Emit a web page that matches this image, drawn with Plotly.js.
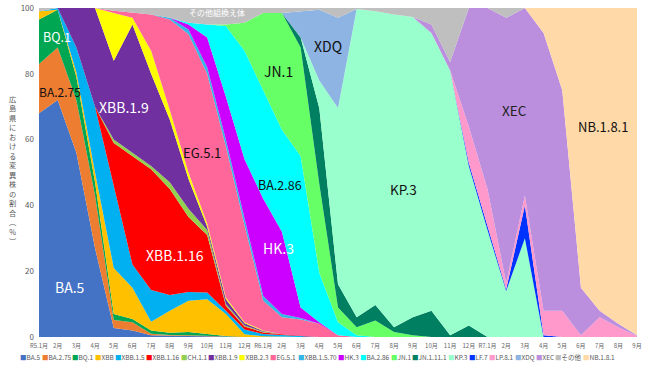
<!DOCTYPE html>
<html><head><meta charset="utf-8">
<script src="https://cdn.plot.ly/plotly-3.0.1.min.js"></script>
<style>html,body{margin:0;padding:0;background:#fff}</style>
</head><body>
<div id="chart" style="width:650px;height:365px"></div>
<script>
// ---- data ----
const months = ['R5.1月','2月','3月','4月','5月','6月','7月','8月','9月','10月','11月','12月',
  'R6.1月','2月','3月','4月','5月','6月','7月','8月','9月','10月','11月','12月',
  'R7.1月','2月','3月','4月','5月','6月','7月','8月','9月'];
const seriesNames = ['BA.5','BA.2.75','BQ.1','XBB','XBB.1.5','XBB.1.16','CH.1.1','XBB.1.9','XBB.2.3','EG.5.1',
  'XBB.1.5.70','HK.3','BA.2.86','JN.1','JN.1.11.1','KP.3','LF.7','LP.8.1','XDQ','XEC','その他','NB.1.8.1'];

const BA5     = [68,72,56,27,2.7,2,0.5,0.3,0.3,0.2,0.1,0,0,0,0,0,0,0,0,0,0,0,0,0,0,0,0,0,0,0,0,0,0];
const BA275   = [15,16,16,16,2.5,2.5,0.5,0.3,0.2,0.1,0,0,0,0,0,0,0,0,0,0,0,0,0,0,0,0,0,0,0,0,0,0,0];
const BQ1     = [13.5,11.5,7,4,1.8,1,1,0.7,1,0.5,0.2,0,0,0,0,0,0,0,0,0,0,0,0,0,0,0,0,0,0,0,0,0,0];
const XBB     = [2.5,0,1.5,3,14,9.5,2.6,6.7,9.5,10.7,6.7,0.8,0.2,0,0,0,0,0,0,0,0,0,0,0,0,0,0,0,0,0,0,0,0];
const XBB15   = [0,0.5,7.5,20,25,7,9.7,4.8,2.7,2,1,1.5,0.7,0.5,0.3,0,0,0,0,0,0,0,0,0,0,0,0,0,0,0,0,0,0];
const XBB116  = [0,0,0,0,13,33,36.7,32.2,22.8,17.5,1.5,0.9,0.5,0.3,0,0,0,0,0,0,0,0,0,0,0,0,0,0,0,0,0,0,0];
const CH11    = [0,0,0,0,1,1,1,2,2.5,1.5,0.5,0.3,0.2,0,0,0,0,0,0,0,0,0,0,0,0,0,0,0,0,0,0,0,0];
const XBB19   = [0,0,12,30,24,39,28,19,9,1,1.5,0.7,0.2,0,0,0,0,0,0,0,0,0,0,0,0,0,0,0,0,0,0,0,0];
const XBB23   = [0,0,0,0,14.5,2,7,3,2,1,0.5,0.3,0.2,0,0,0,0,0,0,0,0,0,0,0,0,0,0,0,0,0,0,0,0];
const EG51    = [0,0,0,0,0.7,1.5,11,27.5,42,45.5,46,29.5,9,5.2,5,4,0.5,0,0,0,0,0,0,0,0,0,0,0,0,0,0,0,0];
const XBB1570 = [0,0,0,0,0,0,0,0.5,1.5,2,2,2,1.5,1,0.5,0,0,0,0,0,0,0,0,0,0,0,0,0,0,0,0,0,0];
const HK3     = [0,0,0,0,0,0,0,0,1.5,9,13,18,29.5,25,3.2,0.5,0,0,0,0,0,0,0,0,0,0,0,0,0,0,0,0,0];
const BA286   = [0,0,0,0,0,0,0,0,0.5,4,21.5,33,33,31,46,15,4,0.5,0,0,0,0,0,0,0,0,0,0,0,0,0,0,0];
const JN1     = [0,0,0,0,0,0,0,0,0,0,0.5,8.5,23.5,35.5,33,27,4.5,2.5,5,1.5,0.5,0,0,0,0,0,0,0,0,0,0,0,0];
const JN1111  = [0,0,0,0,0,0,0,0,0,0,0,0,0,0,3,23,7,3,4.7,1.5,5.5,8,0.5,3.5,0,0,0,0,0,0,0,0,0];
const KP3     = [0,0,0,0,0,0,0,0,0,0,0,0,0,0,0,8.5,53.6,93.7,89.3,95,91.3,84.4,80.5,48.5,32.5,14,30,0,0,0,0,0,0];
const LF7     = [0,0,0,0,0,0,0,0,0,0,0,0,0,0,0,0,0,0,0,0,0,0,0,1,1,0.5,10,0.5,0,0,0,0,0];
const LP81    = [0,0,0,0,0,0,0,0,0,0,0,0,0,0,0,0,0,0,0,0,0,0,0,11,11.5,1.9,3,7.5,8,0.5,6,3,0.3];
const XDQ     = [0,0,0,0,0,0,0,0,0,0,0,0,0,0,8,21.5,27.4,0,0,0,0,0,0,0,0,0,0,0,0,0,0,0,0];
const XEC     = [0,0,0,0,0,0,0,0,0,0,0,0,0,0,0,0,0,0,0,0,0,2.6,2.6,36,55,80.6,57,84.4,67,14.5,2,1,0.2];
const OTHER   = [1,0,0,0,0.8,1.5,2,3,4.5,5,5,4.5,1.5,1.5,1,0.5,3,0.3,1,2,2.7,5,16.4,0,0,3,0,0,0,0,0,0,0];
const NB181   = [0,0,0,0,0,0,0,0,0,0,0,0,0,0,0,0,0,0,0,0,0,0,0,0,0,0,0,7.6,25,85,92,96,99.5];

// ---- styles ----
const seriesValues = [BA5,BA275,BQ1,XBB,XBB15,XBB116,CH11,XBB19,XBB23,EG51,XBB1570,HK3,BA286,JN1,JN1111,KP3,LF7,LP81,XDQ,XEC,OTHER,NB181];
const colors = ['#4472C4','#ED7D31','#00A651','#FFC000','#00B0F0','#FF0000','#92D050','#7030A0','#FFFF00','#FF6699',
  '#33B5E5','#CC00FF','#00FFFF','#66FF66','#008060','#99FFCC','#0033FF','#FF99CC','#8DB4E2','#BB8EDE','#BFBFBF','#FFDAA8'];
const FONT = '"Noto Sans CJK JP", "Noto Sans", sans-serif';

const xIdx = months.map((m, i) => i);
const traces = seriesNames.map((name, k) => ({
  type: 'scatter', mode: 'lines', name: name,
  x: xIdx, y: seriesValues[k], stackgroup: 'one',
  line: {width: 0, color: colors[k]}, fillcolor: colors[k],
  hoverinfo: 'skip'
}));

// in-area labels
const areaLabels = [
  {t:'BA.5', x:1.66, y:15.2, c:'#fff', s:14},
  {t:'BA.2.75', x:1.12, y:74.5, c:'#111', s:12},
  {t:'BQ.1', x:0.96, y:91.2, c:'#fff', s:12.5},
  {t:'XBB.1.9', x:4.55, y:70, c:'#fff', s:14},
  {t:'XBB.1.16', x:7.28, y:25, c:'#fff', s:14},
  {t:'EG.5.1', x:8.7, y:56, c:'#111', s:13},
  {t:'HK.3', x:12.8, y:27, c:'#fff', s:14},
  {t:'BA.2.86', x:12.9, y:46.5, c:'#111', s:12.5},
  {t:'JN.1', x:12.8, y:81, c:'#111', s:14},
  {t:'XDQ', x:15.46, y:88.4, c:'#111', s:14},
  {t:'KP.3', x:19.48, y:45, c:'#111', s:13.5},
  {t:'XEC', x:25.47, y:69, c:'#222', s:13.5},
  {t:'NB.1.8.1', x:30.18, y:64, c:'#111', s:13},
  {t:'その他組換え体', x:9.5, y:98.6, c:'#fff', s:8}
];
const annotations = areaLabels.map(a => ({
  text: a.t, x: a.x, y: a.y, xref: 'x', yref: 'y', showarrow: false,
  font: {family: FONT, size: a.s, color: a.c}
}));

// vertical y-axis title (upright characters)
const yTitle = '広島県における変異株の割合︵%︶';
annotations.push({
  text: Array.from(yTitle).join('<br>'), xref: 'paper', yref: 'paper',
  x: -0.0435, y: 0.507, xanchor: 'center', yanchor: 'middle', showarrow: false,
  font: {family: FONT, size: 7.3, color: '#595959'}
});

// custom one-row legend
const L = 39, W = 598, T = 8, H = 329;
const legFont = 6.5;
const ctx = document.createElement('canvas').getContext('2d');
ctx.font = legFont + 'px "Noto Sans CJK JP"';
const mark = 6;
const widths = seriesNames.map(n => mark + ctx.measureText(n).width);
const startPx = 18, endPx = 612;
const totalW = widths.reduce((a, b) => a + b, 0);
const gap = (endPx - startPx - totalW) / (seriesNames.length - 1);
let cur = startPx;
seriesNames.forEach((n, k) => {
  annotations.push({
    text: '<span style="color:' + colors[k] + '">■</span>' + n,
    xref: 'paper', yref: 'paper', x: (cur - L) / W, y: (T + H - 356.5) / H,
    xanchor: 'left', yanchor: 'middle', showarrow: false,
    font: {family: FONT, size: legFont, color: '#595959'}
  });
  cur += widths[k] + gap;
});

const layout = {
  width: 650, height: 365,
  margin: {l: L, r: 650 - L - W, t: T, b: 365 - T - H, pad: 0},
  paper_bgcolor: '#fff', plot_bgcolor: '#fff',
  showlegend: false,
  font: {family: FONT, color: '#595959'},
  xaxis: {range: [0, 32], tickvals: xIdx, ticktext: months, tickangle: 0, ticklabelstandoff: 4,
    tickfont: {size: 6, color: '#666'}, showgrid: false, zeroline: false, showline: false, ticks: ''},
  yaxis: {range: [0, 100], tickvals: [0, 20, 40, 60, 80, 100], tickfont: {size: 8, color: '#595959'},
    ticklabelstandoff: 4, showgrid: false, zeroline: false, showline: false, ticks: ''},
  annotations: annotations
};
Plotly.newPlot('chart', traces, layout, {displayModeBar: false, staticPlot: true});
</script>
</body></html>
